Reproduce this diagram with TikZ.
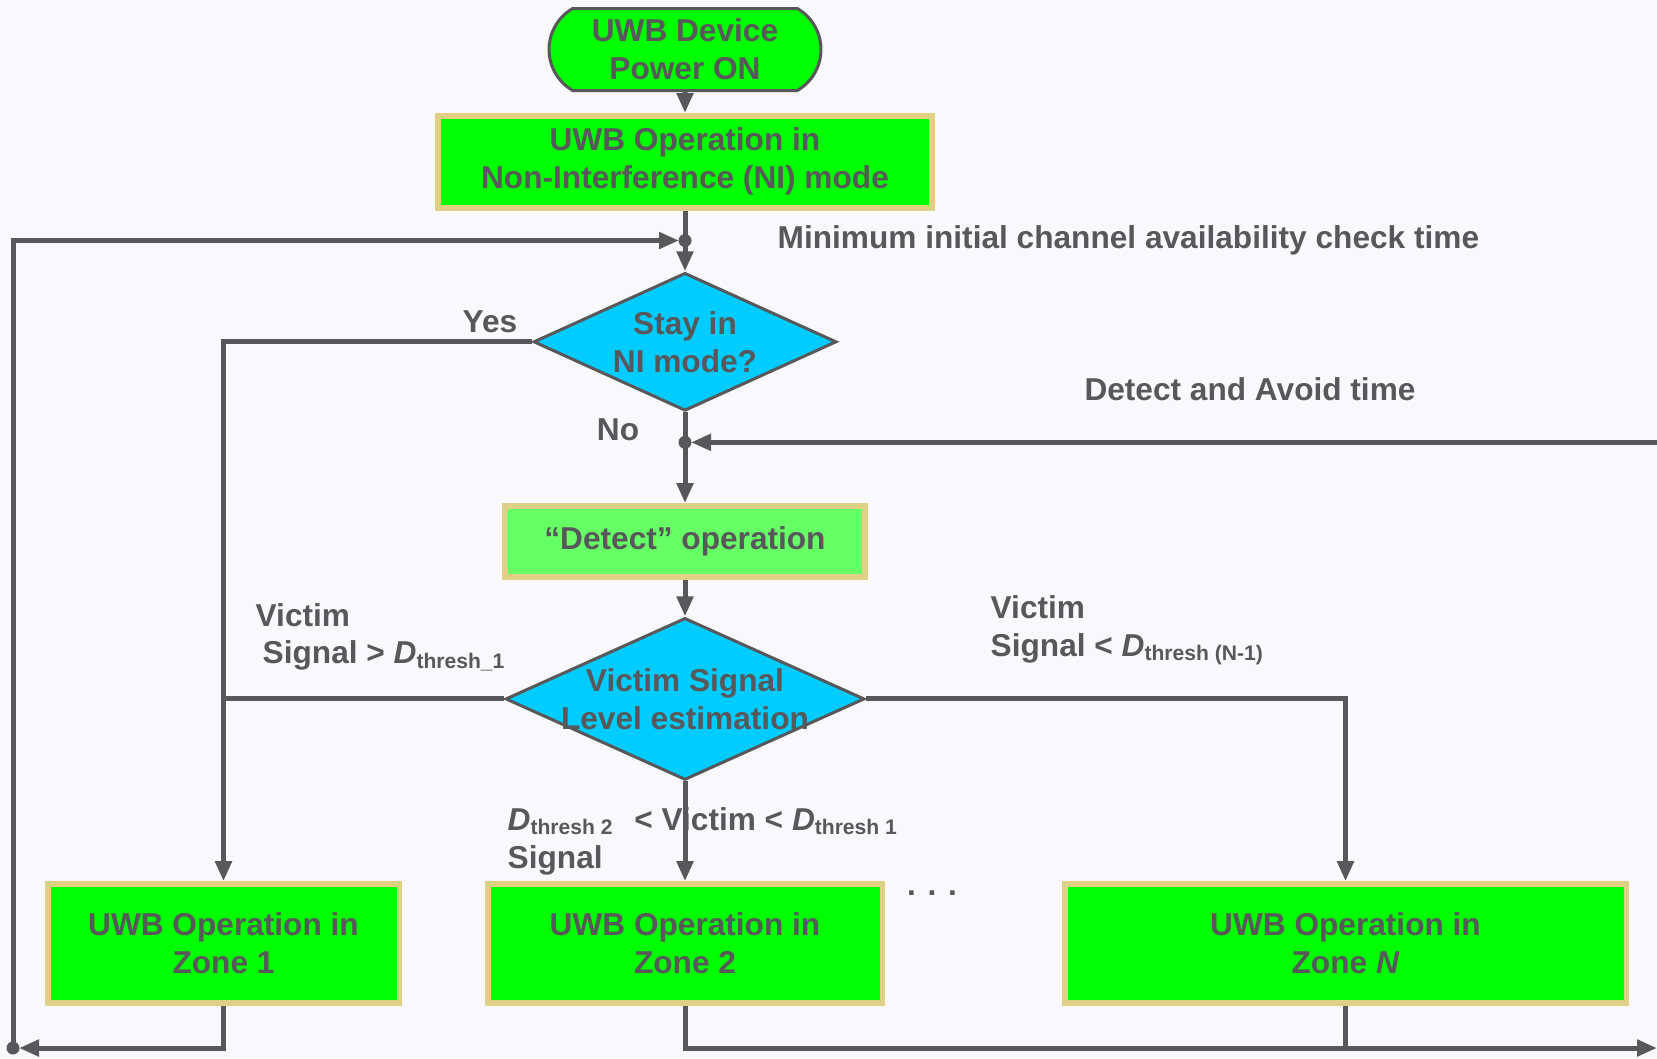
\documentclass[tikz,border=0pt]{standalone}
\usepackage{fontspec}
\setmainfont{Liberation Sans}
\usetikzlibrary{shapes.geometric,shapes.misc,positioning,arrows.meta}

\definecolor{linegray}{HTML}{58585A}
\definecolor{boxgreen}{HTML}{00FF00}
\definecolor{lightgreen}{HTML}{66FF66}
\definecolor{tanborder}{HTML}{E0D084}
\definecolor{skyblue}{HTML}{00CCFF}
\definecolor{paper}{HTML}{F9F9FC}

\tikzset{
  opbox/.style={rectangle, draw=tanborder, line width=0.55mm, fill=boxgreen, align=center, inner sep=0pt},
  terminal/.style={rounded rectangle, rounded rectangle arc length=120, draw=linegray, line width=0.3mm,
    fill=boxgreen, align=center, inner sep=0pt},
  decision/.style={diamond, draw=linegray, line width=0.3mm, fill=skyblue, inner sep=0pt,
    label={[align=center]center:#1}},
  flow/.style={draw=linegray, line width=0.5mm},
  arrow/.style={flow, -{Triangle[length=2mm,width=1.6mm]}},
  dot/.style={circle, fill=linegray, inner sep=0pt, minimum size=1.3mm},
  tag/.style={align=left, inner sep=0pt}
}

\begin{document}
\begin{tikzpicture}[font=\fontsize{9}{10.8}\selectfont\bfseries, text=linegray]
  \fill[paper] (0,0) rectangle (16.57,-10.58);
  \useasboundingbox (0,0) rectangle (16.57,-10.58);
  % main column
  \node[terminal, minimum width=2.72cm, minimum height=0.82cm] (power) at (6.85,-0.495) {UWB Device\\Power ON};
  \node[opbox, minimum width=4.94cm, minimum height=0.92cm] (ni) [below=0.21cm of power]
    {UWB Operation in\\Non-Interference (NI) mode};
  \coordinate[below=0.3cm of ni] (j1);
  \node[decision={Stay in\\NI mode?}, minimum width=3.03cm, minimum height=1.38cm] (stay) [below=0.608cm of ni] {};
  \coordinate[below=0.3cm of stay] (j2);
  \node[opbox, fill=lightgreen, minimum width=3.6cm, minimum height=0.71cm] (detect) [below=0.908cm of stay]
    {“Detect” operation};
  \node[decision={Victim Signal\\Level estimation}, minimum width=3.59cm, minimum height=1.62cm] (level)
    [below=0.368cm of detect] {};
  % zones
  \node[opbox, minimum width=3.945cm, minimum height=1.19cm] (zone2) [below=0.998cm of level] {UWB Operation in\\Zone 2};
  \node[opbox, minimum width=3.515cm, minimum height=1.19cm] (zone1) [left=0.83cm of zone2] {UWB Operation in\\Zone 1};
  \node[opbox, minimum width=5.615cm, minimum height=1.19cm] (zoneN) [right=1.77cm of zone2] {UWB Operation in\\Zone \textit{N}};
  \coordinate (loopL) at (0.13,-10.48);
  \coordinate (loopR) at (16.57,-10.48);
  \coordinate (davin) at (j2 -| loopR);
  % labels
  \node[tag] (mincheck) [right=0.92cm of j1] {Minimum initial channel availability check time};
  \node[tag] (yes) at (4.9,-3.22) {Yes};
  \node[tag] (no) at (6.18,-4.3) {No};
  \node[tag] (datime) at (12.5,-3.89) {Detect and Avoid time};
  \node[tag, anchor=west] (high) at (2.55,-6.37)
    {Victim\\\hspace*{0.7mm}Signal > \textit{D}\textsubscript{thresh\_1}};
  \node[tag, anchor=west] (low) at (9.9,-6.3)
    {Victim\\Signal < \textit{D}\textsubscript{thresh (N-1)}};
  \node[tag, anchor=west] (mid) at (5.07,-8.41)
    {\textit{D}\textsubscript{thresh 2}\hspace{2mm}< Victim < \textit{D}\textsubscript{thresh 1}\\Signal};
  \node[tag] (dots) at (9.32,-8.93) {. . .};
  % connectors
  \draw[arrow] (power) -- (ni);
  \draw[flow] (ni) -- (j1);
  \draw[arrow] (j1) -- (stay);
  \draw[arrow, shorten >=0.6mm] (loopL) |- (j1);
  \draw[arrow] (stay.west) -| (zone1.north);
  \draw[flow] (stay) -- (j2);
  \draw[arrow, shorten >=0.6mm] (davin) -- (j2);
  \draw[arrow] (j2) -- (detect);
  \draw[arrow] (detect) -- (level);
  \draw[flow] (level.west) -- (level.west -| zone1.north);
  \draw[arrow] (level.east) -| (zoneN.north);
  \draw[arrow] (level) -- (zone2);
  \draw[arrow, shorten >=0.6mm] (zone1) |- (loopL);
  \draw[arrow] (zone2) |- (loopR);
  \draw[flow] (zoneN) -- (zoneN |- loopR);
  \node[dot] (j1dot) at (j1) {};
  \node[dot] (j2dot) at (j2) {};
  \node[dot] (loopdot) at (loopL) {};
\end{tikzpicture}
\end{document}
